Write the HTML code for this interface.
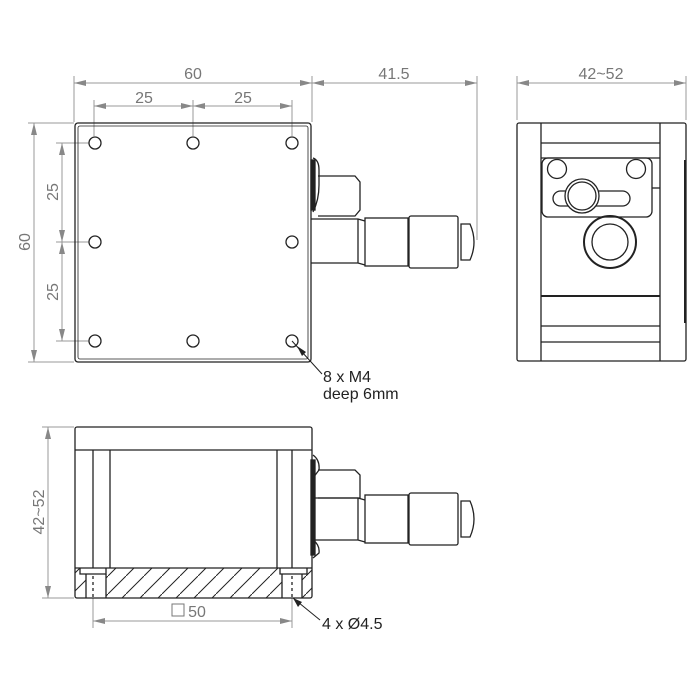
<!DOCTYPE html>
<html><head><style>html,body{margin:0;padding:0;background:#fff}svg{display:block}</style></head><body>
<svg width="700" height="700" viewBox="0 0 700 700" xmlns="http://www.w3.org/2000/svg" font-family="Liberation Sans, sans-serif">
<defs>
<marker id="a" viewBox="0 0 12 6" refX="12" refY="3" markerWidth="12" markerHeight="6" orient="auto-start-reverse" markerUnits="userSpaceOnUse"><path d="M0,0 L12,3 L0,6 z" fill="#888"/></marker>
<pattern id="h" width="18" height="18" patternUnits="userSpaceOnUse"><path d="M-2,20 L20,-2" stroke="#222" stroke-width="1"/></pattern>
</defs>
<!-- dimension lines -->
<g stroke="#999" stroke-width="1" fill="none">
<line x1="74" y1="122" x2="74" y2="76"/><line x1="312" y1="122" x2="312" y2="76"/><line x1="477" y1="240" x2="477" y2="76"/>
<line x1="74" y1="83" x2="312" y2="83" marker-start="url(#a)" marker-end="url(#a)"/>
<line x1="312" y1="83" x2="477" y2="83" marker-start="url(#a)" marker-end="url(#a)"/>
<line x1="94" y1="136" x2="94" y2="100"/><line x1="193" y1="136" x2="193" y2="100"/><line x1="292" y1="136" x2="292" y2="100"/>
<line x1="94" y1="106" x2="193" y2="106" marker-start="url(#a)" marker-end="url(#a)"/>
<line x1="193" y1="106" x2="292" y2="106" marker-start="url(#a)" marker-end="url(#a)"/>
<line x1="74" y1="123" x2="28" y2="123"/><line x1="74" y1="362" x2="28" y2="362"/>
<line x1="34" y1="123" x2="34" y2="362" marker-start="url(#a)" marker-end="url(#a)"/>
<line x1="89" y1="143" x2="56" y2="143"/><line x1="89" y1="242" x2="56" y2="242"/><line x1="89" y1="341" x2="56" y2="341"/>
<line x1="62" y1="143" x2="62" y2="242" marker-start="url(#a)" marker-end="url(#a)"/>
<line x1="62" y1="242" x2="62" y2="341" marker-start="url(#a)" marker-end="url(#a)"/>
<line x1="517" y1="120" x2="517" y2="76"/><line x1="686" y1="120" x2="686" y2="76"/>
<line x1="517" y1="83" x2="686" y2="83" marker-start="url(#a)" marker-end="url(#a)"/>
<line x1="74" y1="427" x2="42" y2="427"/><line x1="74" y1="598" x2="42" y2="598"/>
<line x1="48" y1="427" x2="48" y2="598" marker-start="url(#a)" marker-end="url(#a)"/>
<line x1="93" y1="598" x2="93" y2="628"/><line x1="292" y1="598" x2="292" y2="628"/>
<line x1="93" y1="621" x2="292" y2="621" marker-start="url(#a)" marker-end="url(#a)"/>
</g>
<g fill="#777" font-size="16" text-anchor="middle">
<text x="193" y="79">60</text><text x="394" y="79">41.5</text>
<text x="144" y="103">25</text><text x="243" y="103">25</text>
<text x="601" y="79">42~52</text>
<text transform="translate(30,242) rotate(-90)">60</text>
<text transform="translate(58,192) rotate(-90)">25</text>
<text transform="translate(58,292) rotate(-90)">25</text>
<text transform="translate(44,512) rotate(-90)">42~52</text>
<text x="197" y="617">50</text>
</g>
<rect x="172" y="604" width="12" height="12" fill="none" stroke="#777" stroke-width="1"/>
<!-- top view -->
<g stroke="#222" stroke-width="1.3" fill="none">
<rect x="75" y="123" width="236" height="239" rx="3"/>
<rect x="78" y="126" width="230" height="233" rx="2" stroke-width="0.8"/>
<circle cx="95" cy="143" r="6"/><circle cx="193" cy="143" r="6"/><circle cx="292" cy="143" r="6"/>
<circle cx="95" cy="242" r="6"/><circle cx="292" cy="242" r="6"/>
<circle cx="95" cy="341" r="6"/><circle cx="193" cy="341" r="6"/><circle cx="292" cy="341" r="6"/>
<path d="M313,158 Q319,160 319,170 L319,185 Q319,200 313,212"/>
<rect x="311" y="160" width="4" height="50" fill="#222"/>
<path d="M318,176 L355,176 L360,182 L360,210 L355,216 L318,216"/>
<path d="M311,219 L358,219 L365,221 M311,263 L358,263 L365,265 M358,219 L358,263"/>
<rect x="365" y="218" width="43" height="48"/>
<rect x="409" y="216" width="49" height="52" rx="2"/>
<path d="M461,224 L470,224 Q478,242 470,260 L461,260 Z"/>
</g>
<g stroke="#222" stroke-width="1" fill="none"><line x1="292" y1="341" x2="322" y2="374"/></g>
<path d="M297,346 L306,352 L302,356 Z" fill="#222"/>
<g fill="#222" font-size="16"><text x="323" y="382">8 x M4</text><text x="323" y="399">deep 6mm</text>
<text x="322" y="629">4 x Ø4.5</text></g>
<!-- right view -->
<g stroke="#222" stroke-width="1.3" fill="none">
<rect x="517" y="123" width="169" height="238" rx="2"/>
<line x1="541" y1="123" x2="541" y2="361"/><line x1="660" y1="123" x2="660" y2="361"/>
<line x1="541" y1="143" x2="660" y2="143"/><line x1="541" y1="158" x2="660" y2="158"/>
<line x1="541" y1="296" x2="660" y2="296" stroke-width="2"/><line x1="541" y1="326" x2="660" y2="326"/><line x1="541" y1="342" x2="660" y2="342"/>
<rect x="542" y="158" width="110" height="59" rx="6"/>
<circle cx="557" cy="169" r="9.5"/><circle cx="636" cy="169" r="9.5"/>
<rect x="553" y="191" width="77" height="15" rx="7.5"/>
<circle cx="582" cy="196" r="17" fill="#fff"/><circle cx="582" cy="196" r="14"/>
<circle cx="610" cy="242" r="26" stroke-width="2"/><circle cx="610" cy="242" r="18"/>
<line x1="652" y1="188" x2="660" y2="188"/>
<line x1="685" y1="160" x2="685" y2="323" stroke-width="2"/>
</g>
<!-- bottom view -->
<rect x="75" y="568" width="237" height="30" fill="url(#h)"/>
<rect x="86" y="568" width="20" height="30" fill="#fff"/><rect x="282" y="568" width="20" height="30" fill="#fff"/>
<g stroke="#222" stroke-width="1.3" fill="none">
<rect x="75" y="427" width="237" height="171" rx="2"/>
<line x1="75" y1="450" x2="312" y2="450"/>
<line x1="93" y1="450" x2="93" y2="568"/><line x1="110" y1="450" x2="110" y2="568"/>
<line x1="277" y1="450" x2="277" y2="568"/><line x1="292" y1="450" x2="292" y2="568"/>
<line x1="75" y1="568" x2="312" y2="568"/>
<path d="M80,568 L80,574 L106,574 L106,568 M280,568 L280,574 L307,574 L307,568"/>
<line x1="86" y1="574" x2="86" y2="598"/><line x1="106" y1="574" x2="106" y2="598"/>
<line x1="282" y1="574" x2="282" y2="598"/><line x1="302" y1="574" x2="302" y2="598"/>
<line x1="93" y1="576" x2="93" y2="598" stroke-dasharray="3,3"/><line x1="292" y1="576" x2="292" y2="598" stroke-dasharray="3,3"/>
<path d="M313,455 Q320,460 319,470 L313,478 M313,540 Q320,545 319,553 L313,558"/>
<rect x="311" y="460" width="4" height="95" fill="#222"/>
<path d="M318,470 L355,470 L360,475 L360,498 L318,498"/>
<path d="M313,498 L358,498 L365,500 M313,540 L358,540 L365,542 M358,498 L358,540"/>
<rect x="365" y="495" width="43" height="48"/>
<rect x="409" y="493" width="49" height="52" rx="2"/>
<path d="M461,501 L470,501 Q478,519 470,537 L461,537 Z"/>
<line x1="293" y1="598" x2="320" y2="620" stroke-width="1"/>
</g>
<path d="M293,598 L302,602 L298,607 Z" fill="#222"/>
</svg>
</body></html>
